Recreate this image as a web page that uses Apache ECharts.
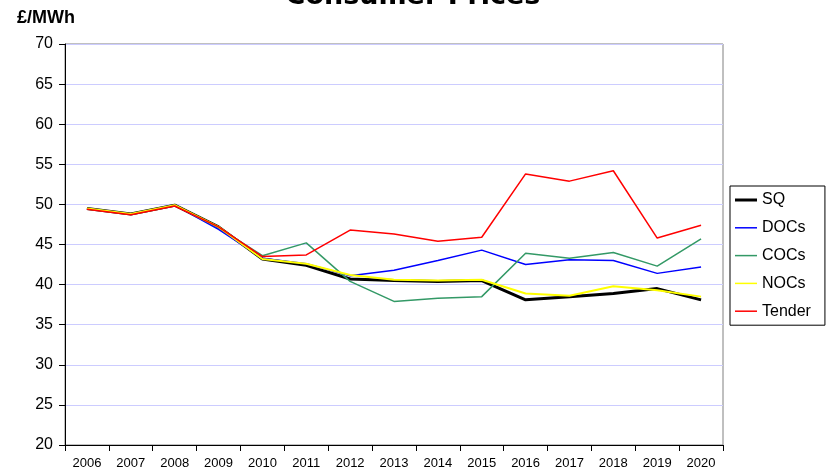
<!DOCTYPE html>
<html>
<head>
<meta charset="utf-8">
<script src="https://cdn.jsdelivr.net/npm/echarts@6/dist/echarts.min.js"></script>
<style>
  html, body { margin: 0; padding: 0; background: #ffffff; }
  #chart { width: 826px; height: 475px; }
</style>
</head>
<body>
<div id="chart"></div>
<script>
// Years on the category axis
const years = ['2006', '2007', '2008', '2009', '2010', '2011', '2012', '2013',
               '2014', '2015', '2016', '2017', '2018', '2019', '2020'];

// Consumer prices per scenario, £/MWh
const sq     = [49.5, 48.8, 49.9, 47.2, 43.2, 42.4, 40.7, 40.5, 40.4, 40.5, 38.1, 38.5, 38.9, 39.5, 38.1];
const docs   = [49.5, 48.8, 49.9, 46.9, 43.3, 42.6, 41.1, 41.8, 43.0, 44.3, 42.5, 43.1, 43.0, 41.4, 42.2];
const cocs   = [49.5, 48.8, 49.9, 47.1, 43.6, 45.2, 40.4, 37.9, 38.3, 38.5, 43.9, 43.3, 44.0, 42.3, 45.7];
const nocs   = [49.5, 48.8, 49.9, 47.2, 43.2, 42.6, 41.2, 40.6, 40.5, 40.6, 38.9, 38.6, 39.8, 39.3, 38.5];
const tender = [49.4, 48.7, 49.8, 47.2, 43.5, 43.7, 46.8, 46.3, 45.4, 45.9, 53.8, 52.9, 54.2, 45.8, 47.4];

const FONT = '"Liberation Sans", Arial, sans-serif';

// Plain line swatches for the legend (no marker)
const THIN_ICON = 'path://M0,0 H22 V1.5 H0 Z';
const THICK_ICON = 'path://M0,0 H22 V3 H0 Z';

function line(name, data, color, width) {
  return {
    name: name,
    type: 'line',
    data: data,
    symbol: 'none',
    animation: false,
    lineStyle: { color: color, width: width },
    itemStyle: { color: color }
  };
}

const chart = echarts.init(document.getElementById('chart'), null, { renderer: 'canvas' });

chart.setOption({
  backgroundColor: '#ffffff',
  animation: false,
  title: {
    text: 'Consumer Prices',
    left: 408,
    textAlign: 'center',
    top: -22,
    textStyle: { fontFamily: '"DejaVu Sans", Verdana, sans-serif', fontWeight: 'bold', fontSize: 27, color: '#000000' }
  },
  graphic: [{
    type: 'text',
    left: 17,
    top: 9,
    style: { text: '£/MWh', fontFamily: FONT, fontWeight: 'bold', fontSize: 18, fill: '#000000' }
  }],
  legend: {
    orient: 'vertical',
    left: 730,
    top: 186,
    padding: [6, 14, 6, 5],
    itemWidth: 22,
    itemHeight: 14,
    itemGap: 11.8,
    borderColor: '#000000',
    borderWidth: 1,
    backgroundColor: '#ffffff',
    symbolKeepAspect: true,
    textStyle: { fontFamily: FONT, fontSize: 16, color: '#000000' },
    data: [
      { name: 'SQ', icon: THICK_ICON },
      { name: 'DOCs', icon: THIN_ICON },
      { name: 'COCs', icon: THIN_ICON },
      { name: 'NOCs', icon: THIN_ICON },
      { name: 'Tender', icon: THIN_ICON }
    ]
  },
  grid: {
    left: 65,
    right: 103,
    top: 44,
    bottom: 30,
    show: true,
    borderColor: '#808080',
    borderWidth: 1,
    backgroundColor: '#ffffff'
  },
  xAxis: {
    type: 'category',
    data: years,
    boundaryGap: true,
    axisLine: { lineStyle: { color: '#000000', width: 1 } },
    axisTick: { show: true, length: 6, alignWithLabel: false, lineStyle: { color: '#000000' } },
    axisLabel: { fontFamily: FONT, fontSize: 13, color: '#000000', margin: 12, interval: 0 },
    splitLine: { show: false }
  },
  yAxis: {
    type: 'value',
    min: 20,
    max: 70,
    interval: 5,
    axisLine: { show: true, lineStyle: { color: '#000000', width: 1 } },
    axisTick: { show: true, length: 6, lineStyle: { color: '#000000' } },
    axisLabel: { fontFamily: FONT, fontSize: 16, color: '#000000', margin: 12 },
    splitLine: { show: true, lineStyle: { color: '#ccccff', width: 1 } }
  },
  series: [
    line('SQ', sq, '#000000', 3),
    line('DOCs', docs, '#0000ff', 1.5),
    line('COCs', cocs, '#339966', 1.5),
    line('NOCs', nocs, '#ffff00', 2),
    line('Tender', tender, '#ff0000', 1.5)
  ]
});
</script>
</body>
</html>
